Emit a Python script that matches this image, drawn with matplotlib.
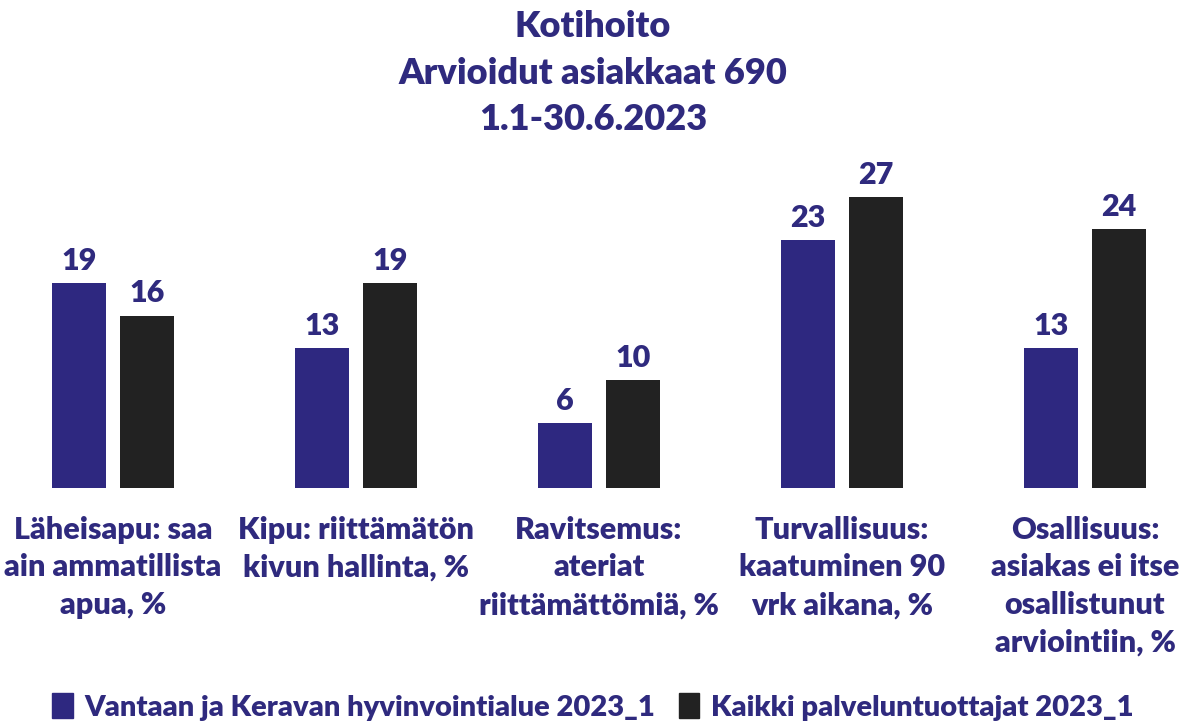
import matplotlib
matplotlib.use("Agg")
import matplotlib.pyplot as plt
from matplotlib.patches import Patch
import numpy as np

categories = [
    "Läheisapu: saa\nain ammatillista\napua, %",
    "Kipu: riittämätön\nkivun hallinta, %",
    "Ravitsemus:\nateriat\nriittämättömiä, %",
    "Turvallisuus:\nkaatuminen 90\nvrk aikana, %",
    "Osallisuus:\nasiakas ei itse\nosallistunut\narviointiin, %",
]
series_names = ["Vantaan ja Keravan hyvinvointialue 2023_1",
                "Kaikki palveluntuottajat 2023_1"]
vantaa = [19, 13, 6, 23, 13]
kaikki = [16, 19, 10, 27, 24]

title = "Kotihoito\nArvioidut asiakkaat 690\n1.1-30.6.2023"

navy = "#2E2880"
dark = "#222222"
text_col = "#2F2A7E"
font = "Lato"
wt = "heavy"

fig = plt.figure(figsize=(11.86, 7.22), dpi=100)
ax = fig.add_axes([0, (722 - 488) / 722, 1, (488 - 150) / 722])

x = np.arange(len(categories))
off = 0.14
w = 0.222
b1 = ax.bar(x - off, vantaa, w, color=navy)
b2 = ax.bar(x + off, kaikki, w, color=dark)
for bars, vals in ((b1, vantaa), (b2, kaikki)):
    for r, v in zip(bars, vals):
        ax.annotate(f"{v}", (r.get_x() + r.get_width() / 2, v),
                    xytext=(0, 6), textcoords="offset points",
                    ha="center", va="bottom", fontsize=22, fontweight=wt,
                    color=text_col, family=font)

ax.set_xlim(-113 / 243, (1186 - 113) / 243)
ax.set_ylim(0, (488 - 150) / 10.78)
ax.set_xticks(x)
ax.set_xticklabels(categories, fontsize=22, fontweight=wt, color=text_col,
                   family=font, linespacing=1.42, va="top")
ax.tick_params(axis="x", length=0, pad=20)
ax.set_yticks([])
for s in ax.spines.values():
    s.set_visible(False)

fig.text(0.5, 1 - 10 / 722, title, ha="center", va="top", fontsize=26,
         fontweight=wt, color=text_col, family=font, linespacing=1.5)

handles = [Patch(color=navy), Patch(color=dark)]
leg = fig.legend(handles, series_names, loc="center", bbox_to_anchor=(0.5, 1 - 707 / 722),
                 ncol=2, frameon=False, handlelength=0.7, handleheight=0.9,
                 handletextpad=0.4, columnspacing=0.8,
                 prop={"family": font, "weight": wt, "size": 21})
for t in leg.get_texts():
    t.set_color(text_col)

fig.savefig("out.png", dpi=100)
